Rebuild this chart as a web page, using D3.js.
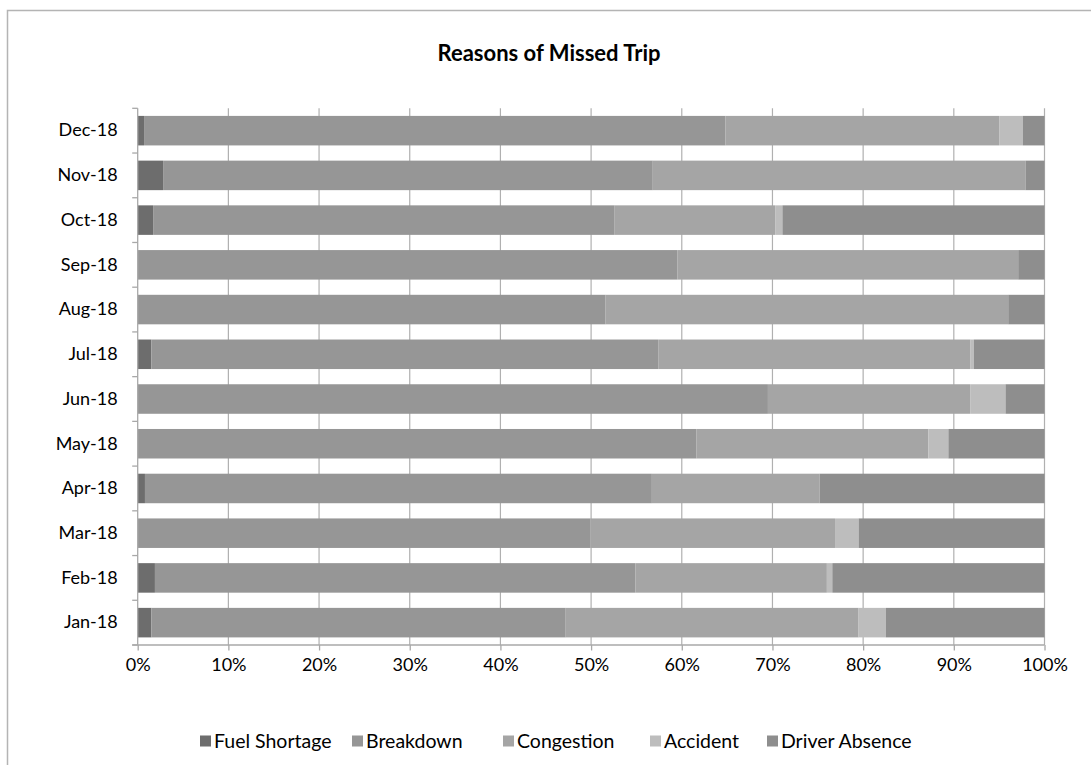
<!DOCTYPE html>
<html>
<head>
<meta charset="utf-8">
<script src="https://cdn.jsdelivr.net/npm/d3@7"></script>
<style>
  html, body { margin: 0; padding: 0; background: #fff; }
  svg { display: block; }
  text { font-family: Lato, "Open Sans", sans-serif; fill: #000; }
</style>
</head>
<body>
<script>
// Months, top row first
const months = ["Dec-18", "Nov-18", "Oct-18", "Sep-18", "Aug-18", "Jul-18",
                "Jun-18", "May-18", "Apr-18", "Mar-18", "Feb-18", "Jan-18"];

// Share of missed trips by reason (%), same order as months
const fuelShortage  = [0.7, 2.8, 1.7, 0.0, 0.0, 1.5, 0.0, 0.0, 0.8, 0.0, 1.9, 1.5];
const breakdown     = [64.1, 54.0, 50.9, 59.5, 51.6, 55.9, 69.5, 61.6, 55.9, 49.9, 53.0, 45.7];
const congestion    = [30.2, 41.1, 17.7, 37.6, 44.4, 34.4, 22.3, 25.6, 18.5, 27.0, 21.1, 32.3];
const accident      = [2.6, 0.0, 0.8, 0.0, 0.0, 0.4, 3.9, 2.2, 0.0, 2.6, 0.6, 3.0];
const driverAbsence = [2.4, 2.1, 28.9, 2.9, 4.0, 7.8, 4.3, 10.6, 24.8, 20.5, 23.4, 17.5];

const seriesNames = ["Fuel Shortage", "Breakdown", "Congestion", "Accident", "Driver Absence"];
const seriesColors = ["#6d6d6d", "#969696", "#a5a5a5", "#bdbdbd", "#8e8e8e"];
const tickValues = [0, 0.1, 0.2, 0.3, 0.4, 0.5, 0.6, 0.7, 0.8, 0.9, 1.0];

const W = 1091, H = 765;
const svg = d3.select("body").append("svg").attr("width", W).attr("height", H);

// chart frame (its right and bottom edges run past the page)
svg.append("path")
  .attr("d", `M7.5,${H + 5} V10.5 H${W + 5}`)
  .attr("fill", "none").attr("stroke", "#b4b4b4").attr("stroke-width", 1.5);

// title
svg.append("text")
  .attr("x", 549).attr("y", 61)
  .attr("text-anchor", "middle")
  .style("font-weight", "bold").style("font-size", "22px")
  .text("Reasons of Missed Trip");

const plotLeft = 137.7, plotRight = 1044.5, plotTop = 108.3, plotBottom = 645;

const rows = months.map((m, i) => {
  const vals = [fuelShortage[i], breakdown[i], congestion[i], accident[i], driverAbsence[i]];
  const tot = d3.sum(vals);
  const r = { month: m };
  seriesNames.forEach((s, k) => { r[s] = vals[k] / tot; });
  return r;
});

const x = d3.scaleLinear().domain([0, 1]).range([plotLeft, plotRight]);
const y = d3.scaleBand().domain(months).range([plotTop, plotBottom]).paddingInner(0.34).paddingOuter(0.17);

// vertical gridlines
svg.append("g").selectAll("line").data(tickValues.slice(1)).join("line")
  .attr("x1", d => x(d)).attr("x2", d => x(d))
  .attr("y1", plotTop).attr("y2", plotBottom)
  .attr("stroke", "#b0b0b0").attr("stroke-width", 1.2);

// stacked bars
const stack = d3.stack().keys(seriesNames);
const layers = stack(rows);
const color = d3.scaleOrdinal().domain(seriesNames).range(seriesColors);

svg.append("g").selectAll("g").data(layers).join("g")
  .attr("fill", d => color(d.key))
  .selectAll("rect").data(d => d).join("rect")
  .attr("x", d => x(d[0]))
  .attr("width", d => Math.max(0, x(d[1]) - x(d[0])))
  .attr("y", d => y(d.data.month))
  .attr("height", y.bandwidth());

const labelFont = "18px";

// category axis
const yAxis = d3.axisLeft(y).tickSize(0).tickPadding(20);
const gy = svg.append("g").attr("transform", `translate(${plotLeft},0)`).call(yAxis);
gy.select(".domain").attr("stroke", "#a8a8a8").attr("stroke-width", 1.3)
  .attr("d", `M0,${plotTop}V${plotBottom}`);
gy.selectAll("text").style("font-size", labelFont).style("font-family", "Lato, 'Open Sans', sans-serif").attr("fill", "#000");

// category tick marks at band boundaries
const bounds = months.map(m => y(m) - y.step() * y.paddingInner() / 2).concat([plotBottom]);
svg.append("g").selectAll("line").data(bounds).join("line")
  .attr("x1", plotLeft - 5.5).attr("x2", plotLeft)
  .attr("y1", d => d).attr("y2", d => d)
  .attr("stroke", "#a8a8a8").attr("stroke-width", 1.3);

// value axis
const xAxis = d3.axisBottom(x).tickValues(tickValues).tickFormat(d3.format(".0%"))
  .tickSizeOuter(0).tickSizeInner(5.5).tickPadding(8);
const gx = svg.append("g").attr("transform", `translate(0,${plotBottom})`).call(xAxis);
gx.select(".domain").attr("stroke", "#a8a8a8").attr("stroke-width", 1.3)
  .attr("d", `M${plotLeft - 5.5},0H${plotRight}`);
gx.selectAll(".tick line").attr("stroke", "#a8a8a8").attr("stroke-width", 1.3);
gx.selectAll("text").style("font-size", labelFont).style("font-family", "Lato, 'Open Sans', sans-serif").attr("fill", "#000");

// legend
const legendX = [200, 352, 503, 650, 767];
const lg = svg.append("g").selectAll("g").data(seriesNames).join("g")
  .attr("transform", (d, i) => `translate(${legendX[i]},741)`);
lg.append("rect").attr("x", 0).attr("y", -5.5).attr("width", 11).attr("height", 11)
  .attr("fill", d => color(d));
lg.append("text").attr("x", 14).attr("y", 0).attr("dy", "0.35em")
  .style("font-size", "19.5px").text(d => d);
</script>
</body>
</html>
